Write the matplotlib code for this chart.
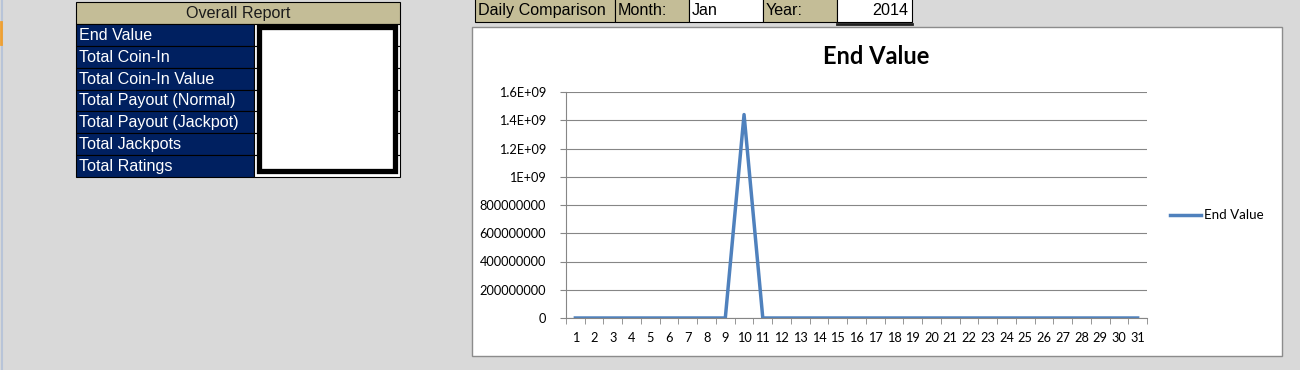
import matplotlib
matplotlib.use("Agg")
import matplotlib.pyplot as plt
from matplotlib.patches import Rectangle
from matplotlib.lines import Line2D

# data
days = list(range(1, 32))
end_value = [0] * 31
end_value[9] = 1.44e9

report_rows = ["End Value", "Total Coin-In", "Total Coin-In Value",
               "Total Payout (Normal)", "Total Payout (Jackpot)",
               "Total Jackpots", "Total Ratings"]
y_ticks = [0, 2e8, 4e8, 6e8, 8e8, 1e9, 1.2e9, 1.4e9, 1.6e9]
y_labels = ["0", "200000000", "400000000", "600000000", "800000000",
            "1E+09", "1.2E+09", "1.4E+09", "1.6E+09"]

TAN = "#c4bd97"
NAVY = "#002060"
BLUE = "#4f81bd"
SHEET = "Liberation Sans"
CHART = "Lato"

W, H = 1300, 370
fig = plt.figure(figsize=(W / 100, H / 100), dpi=100)
fig.patch.set_facecolor("#d9d9d9")

bg = fig.add_axes([0, 0, 1, 1])
bg.set_xlim(0, W)
bg.set_ylim(H, 0)
bg.axis("off")


def cell(x, y, w, h, face, text="", color="black", ha="left", lw=0.8):
    bg.add_patch(Rectangle((x, y), w, h, facecolor=face, edgecolor="black", lw=lw))
    if text:
        tx = {"left": x + 3, "center": x + w / 2, "right": x + w - 4}[ha]
        bg.text(tx, y + h / 2 + 0.5, text, ha=ha, va="center", color=color,
                fontsize=11.6, family=SHEET)


# left edge of sheet
bg.add_line(Line2D([2, 2], [0, H], color="#b8c4d8", lw=1.5))
bg.add_line(Line2D([1, 1], [22, 44], color="#f0a030", lw=2))

# overall report table
cell(76, 2, 324, 22, TAN, "Overall Report", color="#1a1a1a", ha="center")
row_h = (177 - 24) / len(report_rows)
for i, name in enumerate(report_rows):
    y0 = 24 + i * row_h
    cell(76, y0, 178, row_h, NAVY, name, color="white")
    cell(254, y0, 146, row_h, "white")
bg.add_patch(Rectangle((258.5, 27), 136, 143.5, facecolor="white",
                       edgecolor="black", lw=3.8))

# daily comparison header
cell(475, -2, 140, 24, TAN, "Daily Comparison")
cell(615, -2, 74, 24, TAN, "Month:")
cell(689, -2, 74, 24, "white", "Jan")
cell(763, -2, 74, 24, TAN, "Year:")
cell(837, -2, 75, 24, "white", "2014", ha="right")
bg.add_line(Line2D([837, 912], [24, 24], color="#222222", lw=2))

# chart area
bg.add_patch(Rectangle((472, 27), 810, 329, facecolor="white",
                       edgecolor="#8c8c8c", lw=1))
bg.text(876, 57, "End Value", ha="center", va="center", fontsize=17,
        fontweight="bold", family=CHART)

ax = fig.add_axes([566 / W, 1 - 318 / H, (1147 - 566) / W, (318 - 92) / H])
ax.set_facecolor("none")
ax.plot(days, end_value, color=BLUE, lw=2.5)
ax.set_xlim(0.5, 31.5)
ax.set_ylim(0, 1.6e9)
ax.set_yticks(y_ticks)
ax.set_yticklabels(y_labels)
ax.set_xticks(days)
ax.set_xticklabels([str(d) for d in days])
ax.set_xticks([d - 0.5 for d in days] + [31.5], minor=True)
ax.grid(axis="y", color="#868686", lw=0.8)
ax.set_axisbelow(True)
for s in ["top", "right"]:
    ax.spines[s].set_visible(False)
ax.spines["left"].set_color("#868686")
ax.spines["bottom"].set_color("#868686")
ax.tick_params(axis="y", length=4.3, color="#868686", pad=10, labelsize=9.2)
ax.tick_params(axis="x", which="major", length=0, pad=10, labelsize=9.2)
ax.tick_params(axis="x", which="minor", length=4, color="#868686")
for lab in ax.get_xticklabels() + ax.get_yticklabels():
    lab.set_family(CHART)

# legend
bg.add_line(Line2D([1170, 1201], [215, 215], color=BLUE, lw=2.5))
bg.text(1204, 215, "End Value", ha="left", va="center", fontsize=9.6, family=CHART)

fig.savefig("out.png", dpi=100, facecolor=fig.get_facecolor())
